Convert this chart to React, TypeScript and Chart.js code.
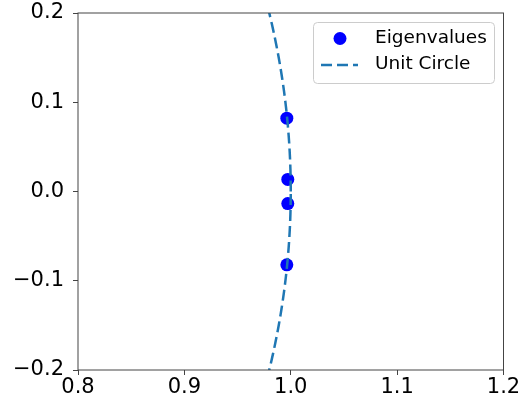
import React, { useEffect, useRef } from "react";
import { Chart, registerables } from "chart.js";

Chart.register(...registerables);

// Eigenvalues (real, imaginary)
const eigenReal = [0.9963, 0.9972, 0.9972, 0.9963];
const eigenImag = [0.0822, 0.0135, -0.0135, -0.0822];

// Axis ranges and tick values
const xTicks = [0.8, 0.9, 1.0, 1.1, 1.2];
const yTicks = [-0.2, -0.1, 0.0, 0.1, 0.2];

const legendLabels = ["Eigenvalues", "Unit Circle"];

const FONT = "'DejaVu Sans', sans-serif";
const CIRCLE_COLOR = "#1f77b4";
const POINT_COLOR = "#0000ff";
const DASH = [11, 5];

// the unit circle, traced counter-clockwise from (1, 0)
const CIRCLE_SAMPLES = 1000;
const unitCircle = Array.from({ length: CIRCLE_SAMPLES }, (_, i) => {
  const t = (2 * Math.PI * i) / (CIRCLE_SAMPLES - 1);
  return { x: Math.cos(t), y: Math.sin(t) };
});

const fmt = (v: number) => Number(v).toFixed(1).replace("-", "\u2212");

const framePlugin = {
  id: "frameAndLegend",
  afterDraw(chart: any) {
    const { ctx, chartArea: a } = chart;
    ctx.save();
    // axes frame
    ctx.strokeStyle = "#444";
    ctx.lineWidth = 1;
    ctx.strokeRect(a.left, a.top, a.right - a.left, a.bottom - a.top);

    // legend box
    const bx = 313.5, by = 22.5, bw = 181, bh = 61, r = 4;
    ctx.beginPath();
    ctx.moveTo(bx + r, by);
    ctx.arcTo(bx + bw, by, bx + bw, by + bh, r);
    ctx.arcTo(bx + bw, by + bh, bx, by + bh, r);
    ctx.arcTo(bx, by + bh, bx, by, r);
    ctx.arcTo(bx, by, bx + bw, by, r);
    ctx.closePath();
    ctx.fillStyle = "rgba(255,255,255,0.8)";
    ctx.fill();
    ctx.strokeStyle = "#cccccc";
    ctx.stroke();

    // legend marker
    ctx.beginPath();
    ctx.arc(340, 38.5, 6.5, 0, Math.PI * 2);
    ctx.fillStyle = POINT_COLOR;
    ctx.fill();

    // legend line
    ctx.beginPath();
    ctx.setLineDash(DASH);
    ctx.lineWidth = 2.5;
    ctx.strokeStyle = CIRCLE_COLOR;
    ctx.moveTo(321, 65);
    ctx.lineTo(358, 65);
    ctx.stroke();
    ctx.setLineDash([]);

    ctx.fillStyle = "#000";
    ctx.font = `18.5px ${FONT}`;
    ctx.textBaseline = "middle";
    ctx.textAlign = "left";
    ctx.fillText(legendLabels[0], 375, 38.5);
    ctx.fillText(legendLabels[1], 375, 64.5);
    ctx.restore();
  },
};

export default function App() {
  const ref = useRef<HTMLCanvasElement>(null);

  useEffect(() => {
    const canvas = ref.current;
    if (!canvas) return;
    const chart = new Chart(canvas, {
      type: "scatter",
      data: {
        datasets: [
          {
            label: legendLabels[1],
            data: unitCircle,
            showLine: true,
            borderColor: CIRCLE_COLOR,
            borderWidth: 2.5,
            borderDash: DASH,
            pointRadius: 0,
            clip: 0,
          } as any,
          {
            label: legendLabels[0],
            data: eigenReal.map((x, i) => ({ x, y: eigenImag[i] })),
            backgroundColor: POINT_COLOR,
            borderWidth: 0,
            pointRadius: 6.5,
            clip: 0,
          } as any,
        ],
      },
      options: {
        animation: false,
        responsive: false,
        events: [],
        layout: { padding: { top: 13, right: 19.5, left: 0, bottom: 0 } },
        plugins: { legend: { display: false }, tooltip: { enabled: false } },
        scales: {
          x: {
            type: "linear",
            min: xTicks[0],
            max: xTicks[xTicks.length - 1],
            afterBuildTicks: (s: any) => {
              s.ticks = xTicks.map((v) => ({ value: v }));
            },
            afterFit: (s: any) => {
              s.height = 37;
              s.paddingLeft = 0;
              s.paddingRight = 0;
            },
            border: { display: false },
            grid: {
              drawOnChartArea: false,
              tickLength: 5,
              color: "#444",
              tickColor: "#444",
            },
            ticks: {
              color: "#000",
              font: { family: FONT, size: 21 },
              padding: 0,
              maxRotation: 0,
              callback: (v: any) => fmt(v),
            },
          },
          y: {
            type: "linear",
            min: yTicks[0],
            max: yTicks[yTicks.length - 1],
            afterBuildTicks: (s: any) => {
              s.ticks = yTicks.map((v) => ({ value: v }));
            },
            afterFit: (s: any) => {
              s.width = 78;
              s.paddingTop = 0;
              s.paddingBottom = 0;
            },
            border: { display: false },
            grid: {
              drawOnChartArea: false,
              tickLength: 5,
              color: "#444",
              tickColor: "#444",
            },
            ticks: {
              color: "#000",
              font: { family: FONT, size: 21 },
              padding: 9,
              callback: (v: any) => fmt(v),
            },
          },
        },
      },
      plugins: [framePlugin],
    });
    return () => chart.destroy();
  }, []);

  return (
    <div style={{ position: "absolute", left: 0, top: 0, width: 523, height: 407, background: "#fff" }}>
      <canvas ref={ref} width={523} height={407} />
    </div>
  );
}
